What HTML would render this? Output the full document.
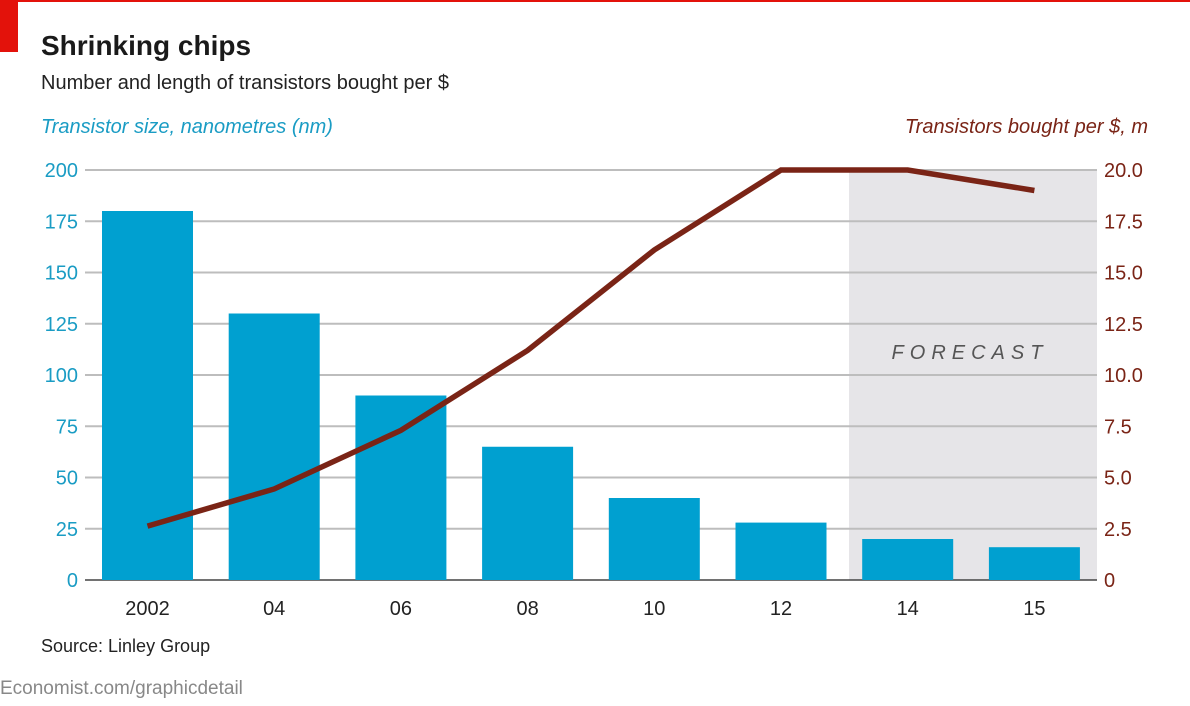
<!DOCTYPE html>
<html><head><meta charset="utf-8"><style>
html,body{margin:0;padding:0;background:#fff;width:1190px;height:706px;overflow:hidden}
svg{display:block;font-family:"Liberation Sans",sans-serif}
</style></head><body>
<svg id="chart" width="1190" height="706" viewBox="0 0 1190 706">
<rect x="0" y="0" width="1190" height="2" fill="#e3120b"/>
<rect x="0" y="0" width="18" height="52" fill="#e3120b"/>
<text x="41" y="55" font-size="28" font-weight="bold" fill="#1a1a1a">Shrinking chips</text>
<text x="41" y="89" font-size="20" fill="#222">Number and length of transistors bought per $</text>
<text x="41" y="133" font-size="20" font-style="italic" fill="#1a9cc4">Transistor size, nanometres (nm)</text>
<text x="1148" y="133" font-size="20" font-style="italic" fill="#7a2416" text-anchor="end">Transistors bought per $, m</text>
<rect x="849" y="170" width="248" height="410" fill="#e6e5e8"/>
<text x="970" y="359" font-size="20" font-style="italic" fill="#555" letter-spacing="6" text-anchor="middle">FORECAST</text>
<g id="grid"></g><g id="bars"></g><g id="line"></g><g id="ticks"></g>
<text x="41" y="652" font-size="18" fill="#222">Source: Linley Group</text>
<text x="0" y="694" font-size="19" fill="#888">Economist.com/graphicdetail</text>
</svg>
<script>
const categories=["2002","04","06","08","10","12","14","15"];
const sizeNm=[180,130,90,65,40,28,20,16];
const perDollar=[2.63,4.44,7.3,11.2,16.1,20,20,19];
const leftTicks=[0,25,50,75,100,125,150,175,200];
const rightTicks=["0","2.5","5.0","7.5","10.0","12.5","15.0","17.5","20.0"];
const NS="http://www.w3.org/2000/svg";
const y0=580,y1=170,xL=85,xR=1097,band=126.7,x0=147.5,bw=91;
const yL=v=>y0-(v/200)*(y0-y1);
const yR=v=>y0-(v/20)*(y0-y1);
const xC=i=>x0+i*band;
function mk(t,a,p){const e=document.createElementNS(NS,t);for(const k in a)e.setAttribute(k,a[k]);p.appendChild(e);return e;}
const grid=document.getElementById('grid'),ticks=document.getElementById('ticks');
leftTicks.forEach((v,i)=>{
 const l=mk('line',{x1:xL,x2:xR,y1:yL(v),y2:yL(v),stroke:v===0?'#444':'#bdbdbd','stroke-width':v===0?1.5:2},grid);
 
 
 const t=mk('text',{x:78,y:yL(v)+7,'font-size':20,fill:'#1a9cc4','text-anchor':'end'},ticks);t.textContent=v;
 
 
 const r=mk('text',{x:1104,y:yR(parseFloat(rightTicks[i]))+7,'font-size':20,fill:'#7a2416'},ticks);r.textContent=rightTicks[i];
 
 
});
const bars=document.getElementById('bars');
sizeNm.forEach((v,i)=>{
 const b=mk('rect',{x:xC(i)-bw/2,y:yL(v),width:bw,height:y0-yL(v),fill:'#00a0d0'},bars);
 
 
 const t=mk('text',{x:xC(i),y:615,'font-size':20,fill:'#222','text-anchor':'middle'},ticks);t.textContent=categories[i];
 
 
});
const pl=mk('polyline',{points:perDollar.map((v,i)=>xC(i)+','+yR(v)).join(' '),fill:'none',stroke:'#7a2416','stroke-width':5.5},document.getElementById('line'));


</script>
</body></html>
